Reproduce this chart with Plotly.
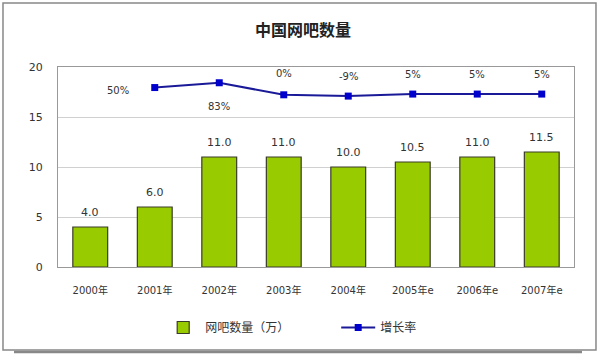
import plotly.graph_objects as go

categories = ["2000年", "2001年", "2002年", "2003年", "2004年", "2005年e", "2006年e", "2007年e"]
bar_values = [4.0, 6.0, 11.0, 11.0, 10.0, 10.5, 11.0, 11.5]
growth_cats = ["2001年", "2002年", "2003年", "2004年", "2005年e", "2006年e", "2007年e"]
growth_values = [50, 83, 0, -9, 5, 5, 5]
# label offsets (pixels) for the growth-rate labels
growth_label_dx = [-37, 0, 0, 0, 0, 0, 0]
growth_label_dy = [-3, -24, 21, 20, 20, 20, 20]

FONT = "DejaVu Sans, Noto Sans CJK SC"

fig = go.Figure()
fig.add_trace(go.Bar(
    x=categories, y=bar_values, name="网吧数量（万）",
    marker=dict(color="#99cc00", line=dict(color="#3a3a2a", width=1.2)),
    width=0.54,
))
fig.add_trace(go.Scatter(
    x=growth_cats, y=growth_values, name="增长率", yaxis="y2",
    mode="lines+markers",
    line=dict(color="#1a1a99", width=2),
    marker=dict(symbol="square", size=7, color="#0000cc"),
    cliponaxis=False,
))

annotations = []
for c, v in zip(categories, bar_values):
    annotations.append(dict(x=c, y=v, xref="x", yref="y", text=f"{v:.1f}", showarrow=False,
                            yshift=15, font=dict(size=11, color="#333333", family=FONT)))
for c, v, dx, dy in zip(growth_cats, growth_values, growth_label_dx, growth_label_dy):
    annotations.append(dict(x=c, y=v, xref="x", yref="y2", text=f"{v}%", showarrow=False,
                            xshift=dx, yshift=dy, font=dict(size=10, color="#333333", family=FONT)))

fig.update_layout(
    width=600, height=354,
    margin=dict(l=58, r=26, t=67, b=87),
    paper_bgcolor="white", plot_bgcolor="white",
    title=dict(text="<b>中国网吧数量</b>", x=0.505, xanchor="center", y=0.915, yanchor="middle",
               font=dict(size=16, color="#222222", family="Noto Sans CJK SC")),
    font=dict(family=FONT, color="#333333"),
    xaxis=dict(showgrid=False, showline=True, linecolor="#999999", mirror=True,
               tickfont=dict(size=10, color="#333333"), ticks="", ticklabelstandoff=14),
    yaxis=dict(range=[0, 20], tickvals=[0, 5, 10, 15, 20], showgrid=True, gridcolor="#d0d0d0",
               showline=True, linecolor="#999999", mirror=True, zeroline=False,
               tickfont=dict(size=11, color="#333333"), ticks="", ticklabelstandoff=12),
    yaxis2=dict(overlaying="y", side="right", range=[-1187.6, 191.7], visible=False),
    showlegend=True,
    legend=dict(orientation="h", x=0.2, xanchor="left", y=-0.23, yanchor="top",
                font=dict(size=12, color="#333333", family="Noto Sans CJK SC"),
                itemwidth=34, entrywidth=126, traceorder="normal"),
    annotations=annotations,
    shapes=[
        dict(type="rect", xref="paper", yref="paper", x0=-0.1066, x1=1.0426, y0=-0.415, y1=1.32,
             line=dict(color="#888888", width=1.5), layer="below"),
        dict(type="line", xref="paper", yref="paper", x0=-0.0853, x1=1.0155, y0=-0.425, y1=-0.425,
             line=dict(color="#888888", width=2.5)),
    ],
)

fig.write_html("out.html")
